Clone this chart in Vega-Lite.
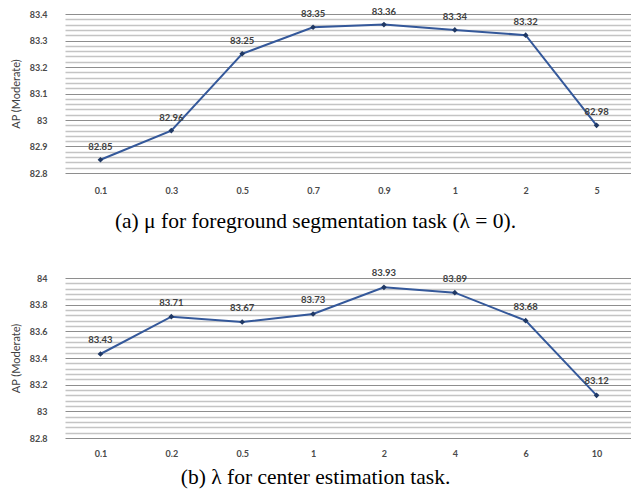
{
  "$schema": "https://vega.github.io/schema/vega-lite/v6.json",
  "padding": {"left": 10, "top": 6, "right": 0, "bottom": 0},
  "background": "white",
  "spacing": 35,
  "config": {
    "view": {"stroke": null},
    "font": "Lato",
    "axisY": {
      "domain": false, "ticks": false,
      "labelFont": "Lato", "labelFontWeight": "bold", "labelFontSize": 9, "labelColor": "#4a4a4a", "labelPadding": 18,
      "titleFont": "Lato", "titleFontWeight": "normal", "titleFontSize": 11, "titleColor": "#404040", "titlePadding": 8
    },
    "axisX": {
      "domain": false, "ticks": false, "grid": false,
      "labelFont": "Lato", "labelFontWeight": "bold", "labelFontSize": 9, "labelColor": "#4a4a4a", "labelPadding": 12, "labelAngle": 0
    },
    "title": {"font": "Liberation Serif", "fontSize": 21.5, "fontWeight": "normal", "color": "black", "orient": "bottom", "anchor": "middle", "frame": "group", "dx": -33}
  },
  "vconcat": [
    {
      "width": 567, "height": 159,
      "title": {"text": "(a) μ for foreground segmentation task (λ = 0).", "orient": "bottom", "offset": 16},
      "data": {"values": [
        {"p": "0.1", "v": 82.85}, {"p": "0.3", "v": 82.96}, {"p": "0.5", "v": 83.25}, {"p": "0.7", "v": 83.35},
        {"p": "0.9", "v": 83.36}, {"p": "1", "v": 83.34}, {"p": "2", "v": 83.32}, {"p": "5", "v": 82.98}
      ]},
      "encoding": {
        "x": {"field": "p", "type": "ordinal", "sort": null, "scale": {"type": "point", "padding": 0.5}, "axis": {"title": null, "labelPadding": 13}},
        "y": {"field": "v", "type": "quantitative", "scale": {"domain": [82.8, 83.4], "nice": false, "zero": false},
          "axis": {"title": "AP (Moderate)",
            "values": [82.8, 82.82, 82.84, 82.86, 82.88, 82.9, 82.92, 82.94, 82.96, 82.98, 83.0, 83.02, 83.04, 83.06, 83.08, 83.1, 83.12, 83.14, 83.16, 83.18, 83.2, 83.22, 83.24, 83.26, 83.28, 83.3, 83.32, 83.34, 83.36, 83.38, 83.4],
            "labelExpr": "abs(datum.value*10 - round(datum.value*10)) < 0.001 ? format(datum.value, '.1~f') : ''",
            "gridColor": {"condition": {"test": "abs(datum.value*10 - round(datum.value*10)) < 0.001", "value": "#8e8e8e"}, "value": "#c4c4c4"},
            "gridWidth": {"condition": {"test": "abs(datum.value*10 - round(datum.value*10)) < 0.001", "value": 1}, "value": 1.5}
          }}
      },
      "layer": [
        {"mark": {"type": "line", "color": "#34589a", "strokeWidth": 2}},
        {"mark": {"type": "point", "shape": "diamond", "filled": true, "color": "#1f3864", "size": 32, "opacity": 1}},
        {"mark": {"type": "text", "dy": -13, "baseline": "middle", "fontWeight": "bold", "fontSize": 9.5, "color": "#404040", "font": "Lato"},
         "encoding": {"text": {"field": "v", "type": "quantitative", "format": ".2f"}}}
      ]
    },
    {
      "width": 567, "height": 160,
      "title": {"text": "(b) λ for center estimation task.", "orient": "bottom", "offset": 9},
      "data": {"values": [
        {"p": "0.1", "v": 83.43}, {"p": "0.2", "v": 83.71}, {"p": "0.5", "v": 83.67}, {"p": "1", "v": 83.73},
        {"p": "2", "v": 83.93}, {"p": "4", "v": 83.89}, {"p": "6", "v": 83.68}, {"p": "10", "v": 83.12}
      ]},
      "encoding": {
        "x": {"field": "p", "type": "ordinal", "sort": null, "scale": {"type": "point", "padding": 0.5}, "axis": {"title": null, "labelPadding": 11}},
        "y": {"field": "v", "type": "quantitative", "scale": {"domain": [82.8, 84], "nice": false, "zero": false},
          "axis": {"title": "AP (Moderate)",
            "values": [82.8, 82.84, 82.88, 82.92, 82.96, 83.0, 83.04, 83.08, 83.12, 83.16, 83.2, 83.24, 83.28, 83.32, 83.36, 83.4, 83.44, 83.48, 83.52, 83.56, 83.6, 83.64, 83.68, 83.72, 83.76, 83.8, 83.84, 83.88, 83.92, 83.96, 84.0],
            "labelExpr": "abs(datum.value*5 - round(datum.value*5)) < 0.001 ? format(datum.value, '.1~f') : ''",
            "gridColor": {"condition": {"test": "abs(datum.value*5 - round(datum.value*5)) < 0.001", "value": "#8e8e8e"}, "value": "#c4c4c4"},
            "gridWidth": {"condition": {"test": "abs(datum.value*5 - round(datum.value*5)) < 0.001", "value": 1}, "value": 1.5}
          }}
      },
      "layer": [
        {"mark": {"type": "line", "color": "#34589a", "strokeWidth": 2}},
        {"mark": {"type": "point", "shape": "diamond", "filled": true, "color": "#1f3864", "size": 32, "opacity": 1}},
        {"mark": {"type": "text", "dy": -14, "baseline": "middle", "fontWeight": "bold", "fontSize": 9.5, "color": "#404040", "font": "Lato"},
         "encoding": {"text": {"field": "v", "type": "quantitative", "format": ".2f"}}}
      ]
    }
  ]
}
